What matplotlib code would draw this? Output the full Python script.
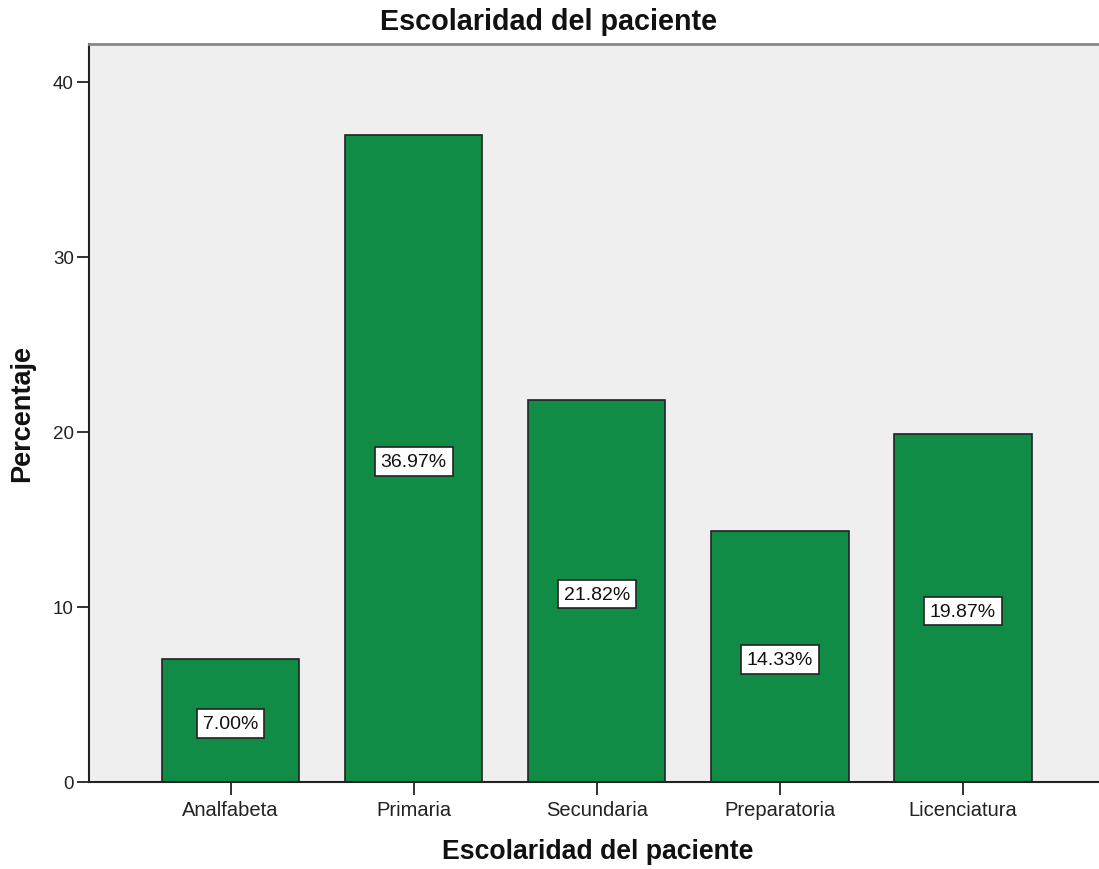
import matplotlib
matplotlib.use("Agg")
import matplotlib.pyplot as plt
from matplotlib.transforms import offset_copy

categories = ["Analfabeta", "Primaria", "Secundaria", "Preparatoria", "Licenciatura"]
percentages = [7.00, 36.97, 21.82, 14.33, 19.87]
yticks = [0, 10, 20, 30, 40]

title = "Escolaridad del paciente"
xlabel = "Escolaridad del paciente"
ylabel = "Percentaje"

plt.rcParams["font.family"] = ["Liberation Sans", "DejaVu Sans"]

BAR_GREEN = "#118c47"
PANEL_BG = "#efefef"

fig = plt.figure(figsize=(10.99, 8.70), dpi=100)
ax = fig.add_axes([89 / 1099, 1 - 783 / 870, 1 - 89 / 1099, (783 - 45) / 870])
ax.set_facecolor(PANEL_BG)

x = list(range(len(categories)))
ax.bar(x, percentages, width=0.75, color=BAR_GREEN,
       edgecolor="#222222", linewidth=1.2, zorder=2)

# value labels sit at half bar height, nudged slightly down
label_tf = offset_copy(ax.transData, fig=fig, x=0, y=-3, units="dots")
for xi, v in zip(x, percentages):
    ax.text(xi, v / 2, f"{v:.2f}%", ha="center", va="center", fontsize=14,
            color="#111111", zorder=3, transform=label_tf,
            bbox=dict(boxstyle="square,pad=0.3", facecolor="white",
                      edgecolor="#222222", linewidth=1.2))

ax.set_xlim(-0.773, 4.743)
ax.set_ylim(0, 42.17)
ax.set_xticks(x)
ax.set_xticklabels(categories, fontsize=14.5, color="#222222")
ax.set_yticks(yticks)
ax.set_yticklabels([str(t) for t in yticks], fontsize=13.5, color="#222222")
ax.tick_params(axis="both", direction="out", length=9, width=1.3, color="#222222")
ax.tick_params(axis="y", pad=2)
ax.tick_params(axis="x", pad=4)

for side in ("left", "bottom"):
    ax.spines[side].set_color("#222222")
    ax.spines[side].set_linewidth(1.5)
ax.spines["right"].set_visible(False)
ax.spines["top"].set_color("#888888")
ax.spines["top"].set_linewidth(2)

fig.text(549 / 1099, 1 - 22 / 870, title,
         ha="center", va="center", fontsize=20.7, fontweight="bold", color="#111111")
fig.text(598 / 1099, 1 - 852 / 870, xlabel, ha="center", va="center",
         fontsize=19.2, fontweight="bold", color="#111111")
fig.text(22 / 1099, 1 - 414 / 870, ylabel, ha="center", va="center",
         rotation=90, fontsize=19.5, fontweight="bold", color="#111111")

fig.savefig("out.png", dpi=100)
